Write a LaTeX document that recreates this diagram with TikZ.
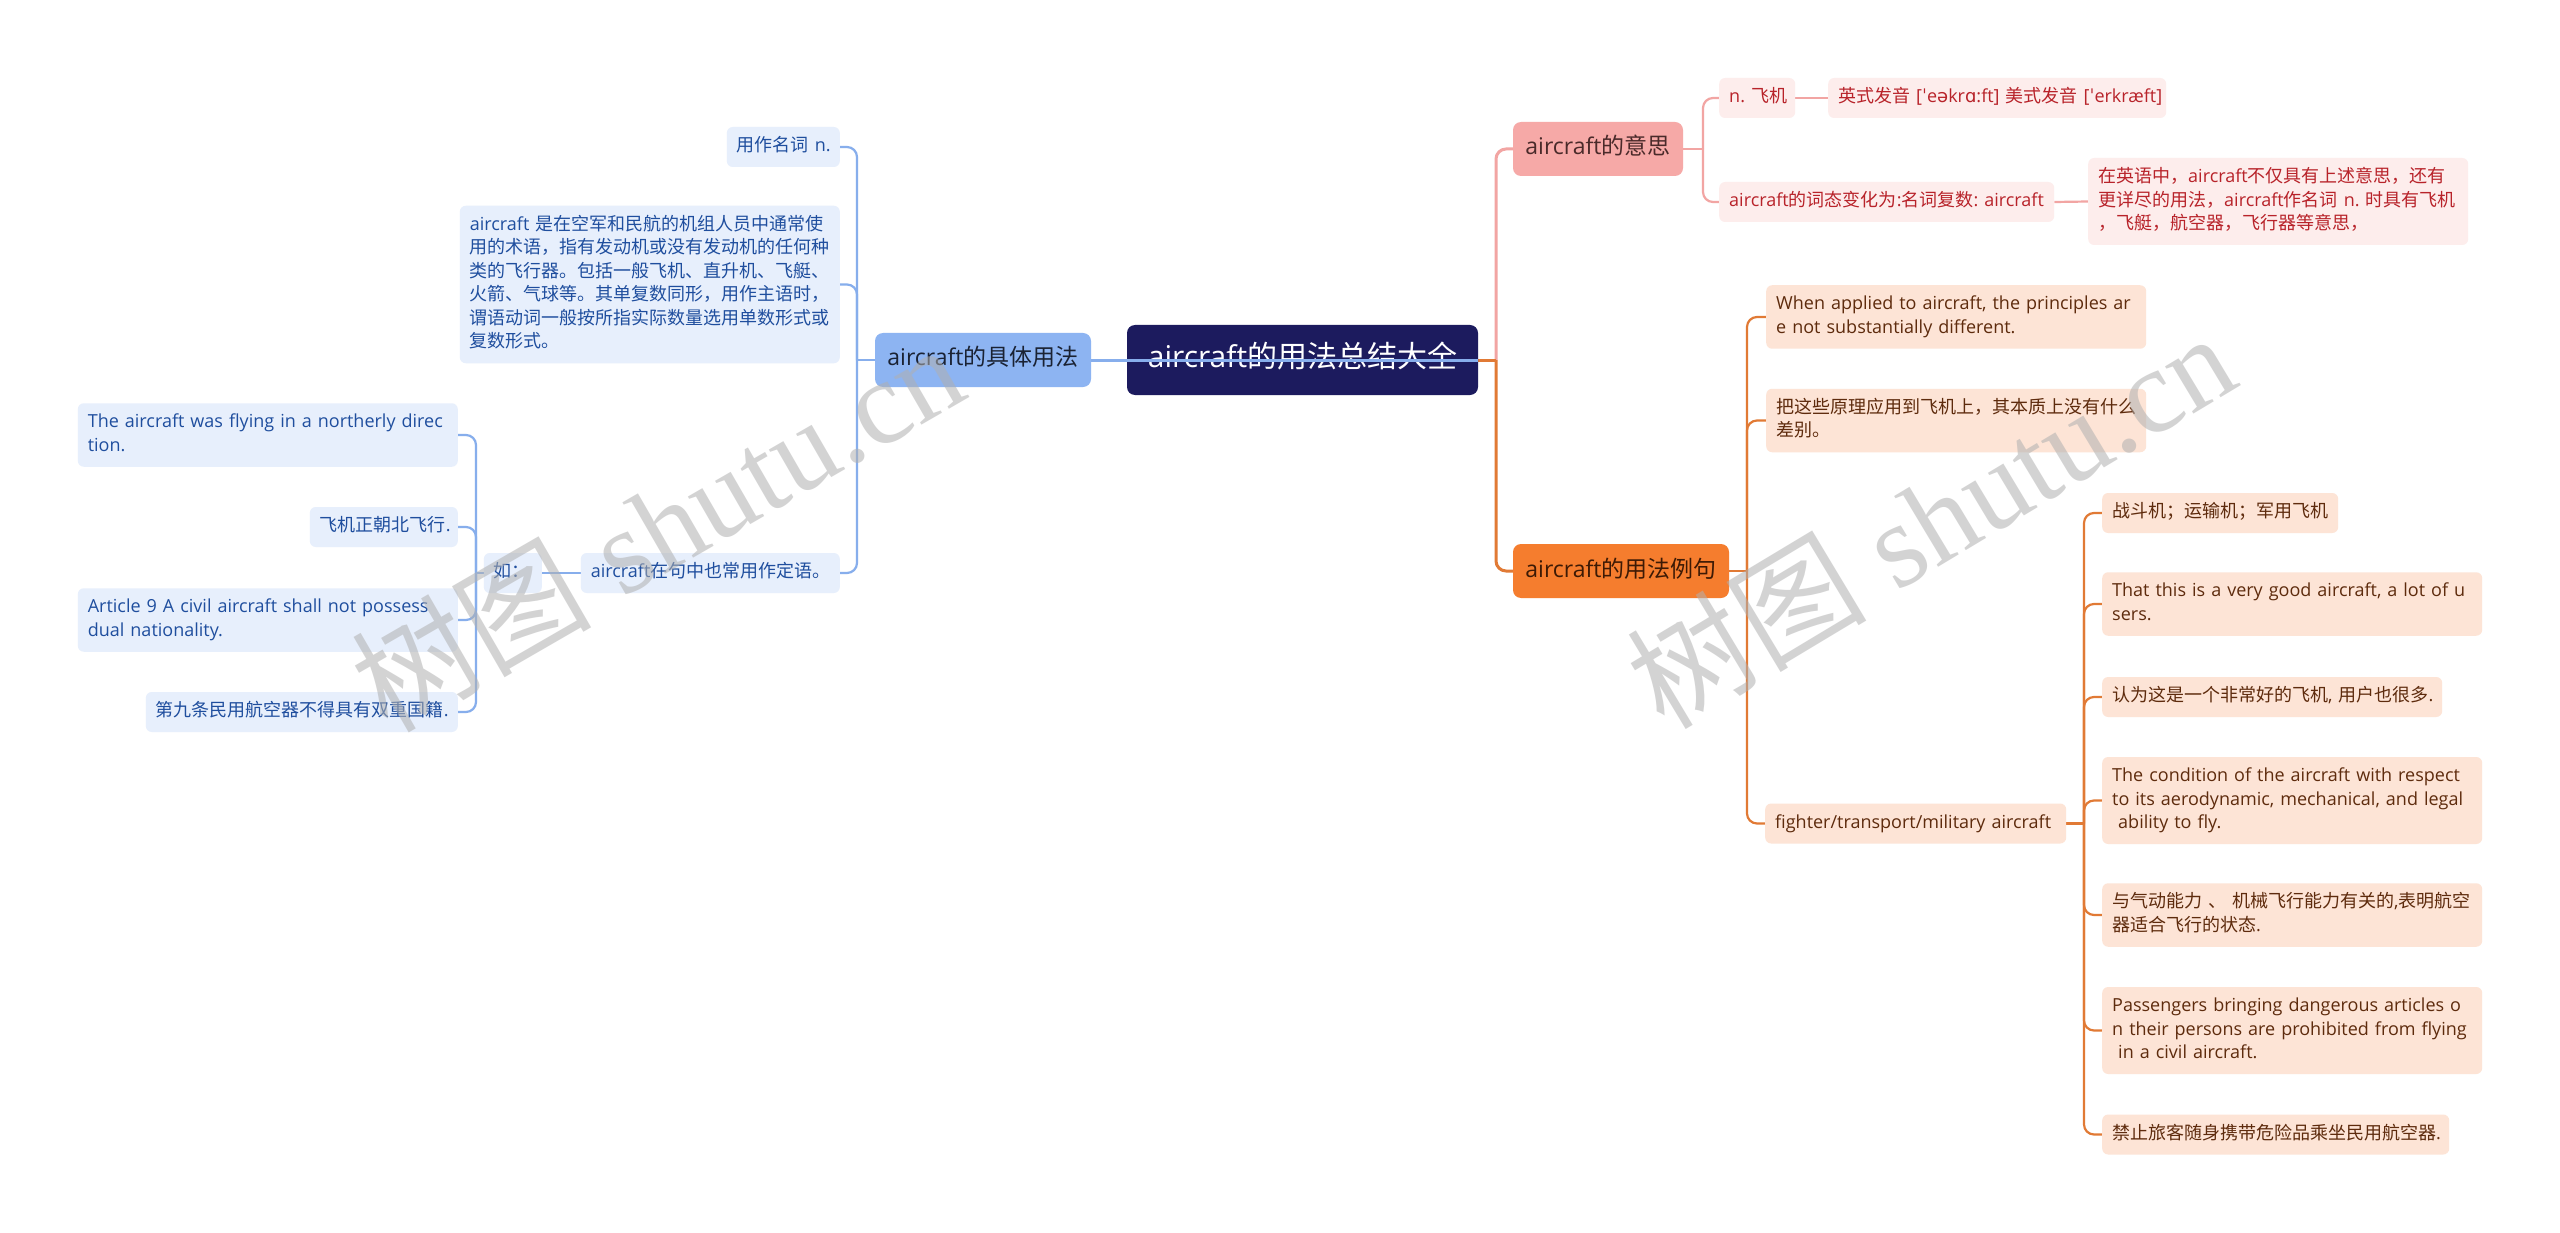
\documentclass[tikz,border=0pt]{standalone}
\usepackage{fontspec}
\setmainfont{Open Sans}
\newfontfamily\cjkfont{Noto Sans CJK SC}
\newfontfamily\latinfont{Open Sans}
\newfontfamily\ipafont{DejaVu Sans}
\newfontfamily\wmlatin{Liberation Serif}
\usetikzlibrary{backgrounds}
\frenchspacing

\XeTeXinterchartokenstate=1
\newXeTeXintercharclass\cjkclass
\newcount\mycnt
\def\setcjkrange#1#2{\mycnt=#1\relax
  \loop\XeTeXcharclass\mycnt=\cjkclass
  \ifnum\mycnt<#2\relax\advance\mycnt by 1\relax\repeat}
\setcjkrange{"3000}{"303F}
\setcjkrange{"4E00}{"9FFF}
\setcjkrange{"FF00}{"FFEF}
\XeTeXinterchartoks 0 \cjkclass = {\cjkfont}
\XeTeXinterchartoks 4095 \cjkclass = {\cjkfont}
\XeTeXinterchartoks \cjkclass 0 = {\latinfont}
\XeTeXinterchartoks \cjkclass 4095 = {\latinfont}

\newcommand\myline[1]{\mbox{#1}}

\definecolor{rootc}{HTML}{1C1B5E}
\definecolor{bmainc}{HTML}{8DB4F2}
\definecolor{bmaintext}{HTML}{1A2233}
\definecolor{pmainc}{HTML}{F6A9A7}
\definecolor{pmaintext}{HTML}{4A2A2A}
\definecolor{omainc}{HTML}{F57D2E}
\definecolor{omaintext}{HTML}{3D1A05}
\definecolor{bleafc}{HTML}{E7EFFC}
\definecolor{btextc}{HTML}{1F4E9E}
\definecolor{pleafc}{HTML}{FDEDEC}
\definecolor{ptextc}{HTML}{B8232A}
\definecolor{oleafc}{HTML}{FDE4D6}
\definecolor{otextc}{HTML}{5E2B0D}
\definecolor{blinec}{HTML}{87AEEC}
\definecolor{plinec}{HTML}{F2A5A3}
\definecolor{olinec}{HTML}{E17A35}
\definecolor{wmc}{HTML}{B0B0B0}

\begin{document}
\begin{tikzpicture}[x=1pt,y=-1pt,
  base/.style={align=left, execute at begin node=\strut, execute at end node=\strut},
  leaf/.style={base, rounded corners=6pt, inner xsep=10pt, inner ysep=8.25pt,
    font=\fontsize{18}{23.5}\selectfont},
  bleaf/.style={leaf, fill=bleafc, text=btextc, anchor=east},
  pleaf/.style={leaf, fill=pleafc, text=ptextc, anchor=west},
  oleaf/.style={leaf, fill=oleafc, text=otextc, anchor=west},
  mainbox/.style={base, align=center, rounded corners=8pt, inner xsep=10pt,
    inner ysep=12pt, font=\fontsize{23}{30}\selectfont},
  rootbox/.style={base, align=center, rounded corners=8pt, inner xsep=14pt,
    inner ysep=16pt, font=\fontsize{30}{38}\selectfont, fill=rootc, text=white},
  bcon1/.style={draw=blinec, line width=3pt},
  pcon1/.style={draw=plinec, line width=3pt, rounded corners=10pt},
  ocon1/.style={draw=olinec, line width=3pt, rounded corners=10pt},
  bcon/.style={draw=blinec, line width=2.2pt, rounded corners=10pt},
  pcon/.style={draw=plinec, line width=2.2pt, rounded corners=10pt},
  ocon/.style={draw=olinec, line width=2.2pt, rounded corners=10pt},
  wm/.style={font=\fontsize{120}{120}\selectfont, text=wmc, text opacity=0.55, inner sep=0pt}
]
\useasboundingbox (0,0) rectangle (2560,1233);

% ---------- nodes ----------
\node[rootbox, text width=323pt] (root) at (1302.5,360) {aircraft的用法总结大全};

\node[mainbox, fill=bmainc, text=bmaintext, text width=196pt] (spec) at (983,360) {aircraft的具体用法};
\node[mainbox, fill=pmainc, text=pmaintext, text width=150pt] (mean) at (1598,149) {aircraft的意思};
\node[mainbox, fill=omainc, text=omaintext, text width=196pt] (use) at (1621,571) {aircraft的用法例句};

% blue branch
\node[bleaf, text width=93pt] (b1) at (840,147) {\myline{用作名词 n.}};
\node[bleaf, text width=360pt] (b2) at (840,284.5) {\myline{aircraft 是在空军和民航的机组人员中通常使}\\\myline{用的术语，指有发动机或没有发动机的任何种}\\\myline{类的飞行器。包括一般飞机、直升机、飞艇、}\\\myline{火箭、气球等。其单复数同形，用作主语时，}\\\myline{谓语动词一般按所指实际数量选用单数形式或}\\\myline{复数形式。}};
\node[bleaf, text width=239pt] (b3) at (840,573) {\myline{aircraft在句中也常用作定语。}};
\node[bleaf, text width=38pt] (b4) at (542,573) {\myline{如：}};
\node[bleaf, text width=360pt] (b5) at (458,435) {\myline{The aircraft was flying in a northerly direc}\\\myline{tion.}};
\node[bleaf, text width=128pt] (b6) at (458,527) {\myline{飞机正朝北飞行.}};
\node[bleaf, text width=360pt] (b7) at (458,620) {\myline{Article 9 A civil aircraft shall not possess}\\\myline{dual nationality.}};
\node[bleaf, text width=292pt] (b8) at (458,712) {\myline{第九条民用航空器不得具有双重国籍.}};

% pink branch
\node[pleaf, text width=56pt] (p1) at (1719,98) {\myline{n. 飞机}};
\node[pleaf, text width=318pt] (p2) at (1828,98) {\myline{英式发音 [{\ipafont ˈ}e{\ipafont ə}kr{\ipafont ɑ}:ft] 美式发音 [{\ipafont ˈ}erkræft]}};
\node[pleaf, text width=315pt] (p3) at (1719,202) {\myline{aircraft的词态变化为:名词复数: aircraft}};
\node[pleaf, text width=360pt] (p4) at (2088,201.5) {\myline{在英语中，aircraft不仅具有上述意思，还有}\\\myline{更详尽的用法，aircraft作名词 n. 时具有飞机}\\\myline{，飞艇，航空器，飞行器等意思，}};

% orange branch
\node[oleaf, text width=360pt] (o1) at (1766,317) {\myline{When applied to aircraft, the principles ar}\\\myline{e not substantially different.}};
\node[oleaf, text width=360pt] (o2) at (1766,420.5) {\myline{把这些原理应用到飞机上，其本质上没有什么}\\\myline{差别。}};
\node[oleaf, text width=281pt] (o3) at (1765,823.5) {\myline{fighter/transport/military aircraft}};
\node[oleaf, text width=216pt] (o4) at (2102,513) {\myline{战斗机；运输机；军用飞机}};
\node[oleaf, text width=360pt] (o5) at (2102,604) {\myline{That this is a very good aircraft, a lot of u}\\\myline{sers.}};
\node[oleaf, text width=320pt] (o6) at (2102,697) {\myline{认为这是一个非常好的飞机, 用户也很多.}};
\node[oleaf, text width=360pt] (o7) at (2102,800.5) {\myline{The condition of the aircraft with respect}\\\myline{to its aerodynamic, mechanical, and legal}\\\myline{\ ability to fly.}};
\node[oleaf, text width=360pt] (o8) at (2102,915) {\myline{与气动能力 、 机械飞行能力有关的,表明航空}\\\myline{器适合飞行的状态.}};
\node[oleaf, text width=360pt] (o9) at (2102,1030.5) {\myline{Passengers bringing dangerous articles o}\\\myline{n their persons are prohibited from flying}\\\myline{\ in a civil aircraft.}};
\node[oleaf, text width=327pt] (o10) at (2102,1134.5) {\myline{禁止旅客随身携带危险品乘坐民用航空器.}};

% spine coordinates
\coordinate (sR) at (1496,360);
\coordinate (sB) at (857,360);
\coordinate (sB2) at (476,573);
\coordinate (sP) at (1703,149);
\coordinate (sO) at (1747,571);
\coordinate (sO2) at (2084,823.5);

% ---------- connectors ----------
\begin{pgfonlayer}{background}
\fill[white] (0,0) rectangle (2560,1233);
% root to level 1
\draw[pcon1] (sR) |- (mean.west);
\draw[ocon1] (sR) |- (use.west);
\draw[ocon1] (root.east) -- (sR);
\draw[bcon1] (spec.east) -- (root.west);
% blue
\draw[bcon] (spec.west) -- (sB);
\draw[bcon] (sB) |- (b1.east);
\draw[bcon] (sB) |- (b2.east);
\draw[bcon] (sB) |- (b3.east);
\draw[bcon] (b3.west) -- (b4.east);
\draw[bcon] (b4.west) -- (sB2);
\draw[bcon] (sB2) |- (b5.east);
\draw[bcon] (sB2) |- (b6.east);
\draw[bcon] (sB2) |- (b7.east);
\draw[bcon] (sB2) |- (b8.east);
% pink
\draw[pcon] (mean.east) -- (sP);
\draw[pcon] (sP) |- (p1.west);
\draw[pcon] (sP) |- (p3.west);
\draw[pcon] (p1.east) -- (p2.west);
\draw[pcon] (p3.east) -- (p4.west);
% orange
\draw[ocon] (use.east) -- (sO);
\draw[ocon] (sO) |- (o1.west);
\draw[ocon] (sO) |- (o2.west);
\draw[ocon] (sO) |- (o3.west);
\draw[ocon] (o3.east) -- (sO2);
\foreach \n in {o4,o5,o6,o7,o8,o9,o10}{
  \draw[ocon] (sO2) |- (\n.west);
}
\end{pgfonlayer}

% blue line running across the central node
\draw[bcon1] (root.west) -- (root.east);

% ---------- watermarks ----------
\node[wm, rotate=30] (wm1) at (657,526) {树图 {\wmlatin shutu.cn}};
\node[wm, rotate=31] (wm2) at (1930,519) {树图 {\wmlatin shutu.cn}};
\end{tikzpicture}
\end{document}
